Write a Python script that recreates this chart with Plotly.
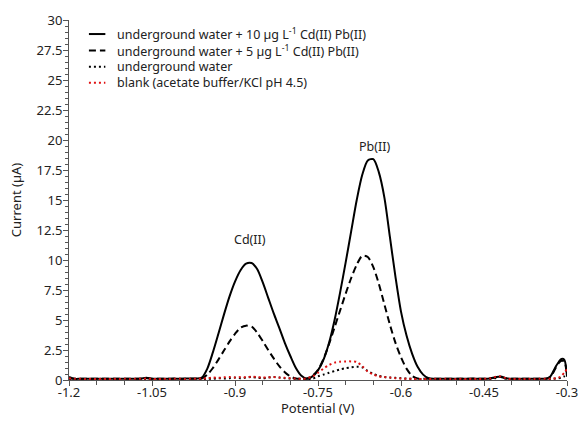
import plotly.graph_objects as go

# Sampled potentials (V)
potential = [
    -1.20, -1.19, -1.18, -1.17, -1.16, -1.15, -1.14, -1.13, -1.12, -1.11,
    -1.10, -1.09, -1.08, -1.07, -1.06, -1.05, -1.04, -1.03, -1.02, -1.01,
    -1.00, -0.99, -0.98, -0.97, -0.96, -0.95, -0.94, -0.93, -0.92, -0.91,
    -0.90, -0.89, -0.88, -0.87, -0.86, -0.85, -0.84, -0.83, -0.82, -0.81,
    -0.80, -0.79, -0.78, -0.77, -0.76, -0.75, -0.74, -0.73, -0.72, -0.71,
    -0.70, -0.69, -0.68, -0.67, -0.66, -0.65, -0.64, -0.63, -0.62, -0.61,
    -0.60, -0.59, -0.58, -0.57, -0.56, -0.55, -0.54, -0.53, -0.52, -0.51,
    -0.50, -0.49, -0.48, -0.47, -0.46, -0.45, -0.44, -0.43, -0.42, -0.41,
    -0.40, -0.39, -0.38, -0.37, -0.36, -0.35, -0.34,
    -0.335, -0.33, -0.325, -0.32, -0.315, -0.31, -0.305, -0.30,
]

# underground water + 10 ug/L Cd(II) Pb(II)
current_10 = [
    0.25, 0.10, 0.10, 0.10, 0.10, 0.10, 0.10, 0.10, 0.10, 0.10,
    0.10, 0.10, 0.10, 0.12, 0.18, 0.10, 0.10, 0.10, 0.10, 0.12,
    0.10, 0.12, 0.12, 0.12, 0.20, 0.95, 2.30, 3.85, 5.45, 6.95,
    8.20, 9.15, 9.70, 9.75, 9.25, 8.15, 6.85, 5.55, 4.35, 3.10,
    2.00, 1.00, 0.35, 0.10, 0.30, 0.80, 1.70, 3.10, 5.00, 7.30,
    9.80, 12.40, 15.00, 17.10, 18.30, 18.40, 17.30, 15.20, 11.90, 8.60,
    5.70, 3.70, 2.20, 1.10, 0.45, 0.15, 0.10, 0.10, 0.10, 0.10,
    0.10, 0.10, 0.10, 0.12, 0.10, 0.10, 0.12, 0.22, 0.30, 0.15,
    0.10, 0.10, 0.10, 0.10, 0.10, 0.10, 0.10,
    0.15, 0.30, 0.70, 1.15, 1.50, 1.75, 1.70, 0.30,
]

# underground water + 5 ug/L Cd(II) Pb(II)
current_5 = [
    0.15, 0.10, 0.10, 0.10, 0.10, 0.10, 0.10, 0.10, 0.10, 0.10,
    0.10, 0.10, 0.10, 0.10, 0.15, 0.10, 0.10, 0.10, 0.10, 0.10,
    0.10, 0.10, 0.10, 0.10, 0.12, 0.45, 1.00, 1.70, 2.45, 3.20,
    3.85, 4.35, 4.53, 4.45, 3.95, 3.25, 2.50, 1.80, 1.15, 0.65,
    0.30, 0.12, 0.10, 0.12, 0.35, 0.85, 1.75, 3.00, 4.40, 5.80,
    7.20, 8.50, 9.60, 10.35, 10.25, 9.40, 8.00, 6.30, 4.60, 3.10,
    1.90, 0.95, 0.35, 0.12, 0.10, 0.10, 0.10, 0.10, 0.10, 0.10,
    0.10, 0.10, 0.10, 0.10, 0.10, 0.10, 0.12, 0.20, 0.25, 0.12,
    0.10, 0.10, 0.10, 0.10, 0.10, 0.10, 0.10,
    0.12, 0.25, 0.60, 1.05, 1.40, 1.60, 1.55, 0.30,
]

# underground water
current_uw = [
    0.10, 0.05, 0.05, 0.05, 0.05, 0.05, 0.05, 0.05, 0.05, 0.05,
    0.05, 0.05, 0.05, 0.05, 0.08, 0.05, 0.05, 0.05, 0.05, 0.05,
    0.05, 0.05, 0.05, 0.05, 0.08, 0.10, 0.10, 0.15, 0.12, 0.15,
    0.20, 0.15, 0.20, 0.25, 0.20, 0.15, 0.20, 0.25, 0.20, 0.15,
    0.12, 0.10, 0.10, 0.05, 0.10, 0.30, 0.45, 0.60, 0.75, 0.88,
    0.98, 1.05, 1.10, 1.05, 0.75, 0.50, 0.35, 0.25, 0.20, 0.18,
    0.15, 0.12, 0.10, 0.08, 0.06, 0.05, 0.05, 0.05, 0.05, 0.05,
    0.05, 0.05, 0.05, 0.05, 0.05, 0.05, 0.08, 0.15, 0.25, 0.10,
    0.05, 0.05, 0.05, 0.05, 0.05, 0.05, 0.05,
    0.05, 0.08, 0.10, 0.12, 0.15, 0.20, 0.30, 0.45,
]

# blank (acetate buffer/KCl pH 4.5)
current_blank = [
    0.15, 0.10, 0.10, 0.08, 0.10, 0.08, 0.10, 0.08, 0.10, 0.08,
    0.10, 0.08, 0.10, 0.10, 0.12, 0.10, 0.08, 0.10, 0.08, 0.10,
    0.10, 0.08, 0.10, 0.10, 0.12, 0.15, 0.20, 0.18, 0.22, 0.25,
    0.20, 0.25, 0.22, 0.28, 0.25, 0.20, 0.22, 0.25, 0.20, 0.18,
    0.15, 0.12, 0.10, 0.15, 0.30, 0.60, 0.95, 1.25, 1.45, 1.53,
    1.55, 1.55, 1.50, 1.15, 0.70, 0.45, 0.30, 0.25, 0.20, 0.15,
    0.12, 0.10, 0.10, 0.08, 0.08, 0.08, 0.10, 0.08, 0.10, 0.08,
    0.08, 0.10, 0.08, 0.10, 0.08, 0.10, 0.12, 0.25, 0.30, 0.15,
    0.08, 0.10, 0.08, 0.10, 0.08, 0.10, 0.10,
    0.10, 0.10, 0.12, 0.15, 0.20, 0.35, 0.60, 0.90,
]

series_names = [
    "underground water + 10 µg L<sup>-1</sup> Cd(II) Pb(II)",
    "underground water + 5 µg L<sup>-1</sup> Cd(II) Pb(II)",
    "underground water",
    "blank (acetate buffer/KCl pH 4.5)",
]

x_tick_vals = [-1.2, -1.05, -0.9, -0.75, -0.6, -0.45, -0.3]
x_tick_text = ["-1.2", "-1.05", "-0.9", "-0.75", "-0.6", "-0.45", "-0.3"]
y_tick_vals = [0, 2.5, 5, 7.5, 10, 12.5, 15, 17.5, 20, 22.5, 25, 27.5, 30]
y_tick_text = ["0", "2.5", "5", "7.5", "10", "12.5", "15", "17.5", "20", "22.5", "25", "27.5", "30"]

peak_labels = ["Cd(II)", "Pb(II)"]
peak_label_x = [-0.872, -0.647]
peak_label_y = [11.7, 19.5]

x_title = "Potential (V)"
y_title = "Current (µA)"

FONT = "Noto Sans"
TXT = "#222222"
AX = "#555555"

styles = [
    dict(color="black", width=2, dash="solid"),
    dict(color="black", width=2, dash="7px,4px"),
    dict(color="black", width=2, dash="2px,3px"),
    dict(color="#e01010", width=2, dash="2px,3px"),
]
ys = [current_10, current_5, current_uw, current_blank]

fig = go.Figure()
for name, y, st in zip(series_names, ys, styles):
    fig.add_trace(go.Scatter(
        x=potential, y=y, mode="lines", name=name,
        line=dict(color=st["color"], width=st["width"], dash=st["dash"],
                  shape="spline", smoothing=0.8),
        showlegend=False, hoverinfo="skip",
    ))

# Manual legend (short line samples + text)
leg_y = [0.961, 0.915, 0.870, 0.826]
for name, st, yy in zip(series_names, styles, leg_y):
    fig.add_shape(type="line", xref="paper", yref="paper",
                  x0=0.040, x1=0.073, y0=yy, y1=yy,
                  line=dict(color=st["color"], width=2, dash=st["dash"]))
    fig.add_annotation(xref="paper", yref="paper", x=0.092, y=yy,
                       text=name, showarrow=False, xanchor="left", yanchor="middle",
                       font=dict(family=FONT, size=12.5, color=TXT))

for t, xx, yy in zip(peak_labels, peak_label_x, peak_label_y):
    fig.add_annotation(x=xx, y=yy, text=t, showarrow=False,
                       font=dict(family=FONT, size=12.5, color=TXT))

# x-axis title placed as text just below the tick labels
fig.add_annotation(xref="paper", yref="paper", x=0.5, y=-0.078, text=x_title,
                   showarrow=False, xanchor="center", yanchor="middle",
                   font=dict(family=FONT, size=13, color=TXT))

fig.update_layout(
    width=585, height=424,
    margin=dict(l=69, r=18, t=20, b=44),
    paper_bgcolor="white", plot_bgcolor="white",
    font=dict(family=FONT, size=13, color=TXT),
    showlegend=False,
)
fig.update_xaxes(
    range=[-1.2, -0.3], tickmode="array", tickvals=x_tick_vals, ticktext=x_tick_text,
    showline=True, linecolor=AX, linewidth=1, ticks="outside", ticklen=5, tickcolor=AX,
    showgrid=False, zeroline=False, automargin=False, ticklabelstandoff=-5,
    tickfont=dict(family=FONT, size=13, color=TXT),
    minor=dict(tickmode="linear", tick0=-1.2, dtick=0.05, ticks="outside", ticklen=4, tickcolor=AX, showgrid=False),
)
fig.update_yaxes(
    range=[0, 30], tickmode="array", tickvals=y_tick_vals, ticktext=y_tick_text,
    showline=True, linecolor=AX, linewidth=1, ticks="outside", ticklen=5, tickcolor=AX,
    showgrid=False, zeroline=False, automargin=False, ticklabelstandoff=-2,
    tickfont=dict(family=FONT, size=13, color=TXT),
    minor=dict(tickmode="linear", tick0=0, dtick=0.5, ticks="outside", ticklen=3, tickcolor=AX, showgrid=False),
    title=dict(text=y_title, font=dict(family=FONT, size=13, color=TXT), standoff=12),
)

fig.write_html("out.html")
